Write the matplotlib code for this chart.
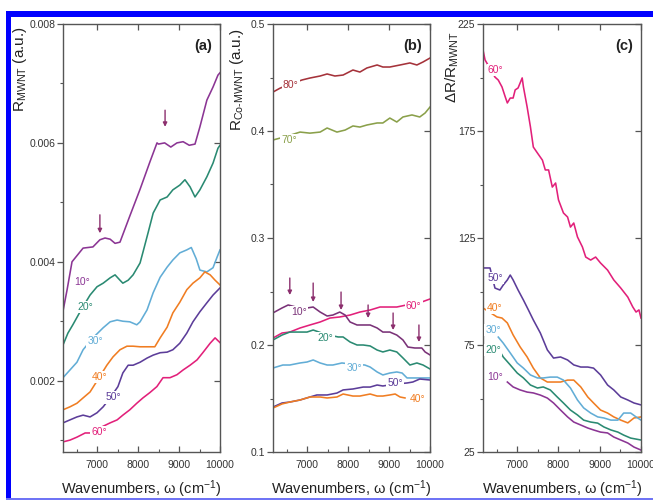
import numpy as np
import matplotlib
matplotlib.use("Agg")
import matplotlib.pyplot as plt
from matplotlib.ticker import MultipleLocator
from matplotlib.patches import Rectangle

plt.rcParams['font.family'] = ['Liberation Sans', 'DejaVu Sans']
plt.rcParams['mathtext.fontset'] = 'custom'
plt.rcParams['mathtext.rm'] = 'Liberation Sans'
plt.rcParams['mathtext.it'] = 'Liberation Sans:italic'

# ---------------- Panel (a): R_MWNT ----------------
a10_wn = [6170, 6270, 6390, 6660, 6900, 7070, 7195, 7320, 7440, 7560, 7800, 8050, 8290, 8463, 8500,
          8650, 8800, 8950, 9100, 9250, 9390, 9510, 9680, 9830, 9950, 10000]
a10_r = [0.00317, 0.00353, 0.00400, 0.00423, 0.00425, 0.00437, 0.00440, 0.00438, 0.00431, 0.00433,
         0.00477, 0.00522, 0.00568, 0.00600, 0.00598, 0.00600, 0.00593, 0.00600, 0.00602, 0.00596,
         0.00598, 0.00627, 0.00672, 0.00694, 0.00714, 0.00718]
a20_wn = [6170, 6290, 6410, 6620, 6830, 7000, 7150, 7320, 7440, 7560, 7630, 7760, 7880, 8050, 8120,
          8250, 8370, 8540, 8710, 8850, 9020, 9145, 9270, 9390, 9510, 9680, 9830, 9950, 10000]
a20_r = [0.00260, 0.00280, 0.00294, 0.00320, 0.00344, 0.00358, 0.00364, 0.00373, 0.00378, 0.00369,
         0.00364, 0.00369, 0.00378, 0.00398, 0.00416, 0.00450, 0.00482, 0.00504, 0.00509, 0.00521,
         0.00529, 0.00538, 0.00526, 0.00509, 0.00521, 0.00543, 0.00566, 0.00591, 0.00596]
a30_wn = [6170, 6340, 6510, 6660, 6900, 7150, 7320, 7490, 7630, 7800, 7970, 8050, 8220, 8370, 8540,
          8710, 8850, 9020, 9190, 9300, 9420, 9510, 9680, 9830, 9930, 10000]
a30_r = [0.00205, 0.00218, 0.00231, 0.00252, 0.00272, 0.00289, 0.00299, 0.00302, 0.00300, 0.00299,
         0.00294, 0.00299, 0.00319, 0.00348, 0.00374, 0.00391, 0.00403, 0.00415, 0.00420, 0.00424,
         0.00405, 0.00386, 0.00383, 0.00390, 0.00408, 0.00420]
a40_wn = [6170, 6340, 6510, 6660, 6830, 7050, 7240, 7390, 7560, 7730, 7880, 8050, 8220, 8410, 8540,
          8710, 8850, 9020, 9190, 9340, 9510, 9630, 9760, 9880, 10000]
a40_r = [0.00151, 0.00156, 0.00162, 0.00171, 0.00181, 0.00205, 0.00226, 0.00240, 0.00252, 0.00258,
         0.00258, 0.00257, 0.00257, 0.00257, 0.00272, 0.00290, 0.00314, 0.00332, 0.00353, 0.00364,
         0.00373, 0.00383, 0.00378, 0.00369, 0.00361]
a50_wn = [6170, 6340, 6510, 6660, 6830, 7000, 7150, 7330, 7510, 7630, 7760, 7880, 8050, 8220, 8370,
          8540, 8710, 8850, 9020, 9190, 9340, 9510, 9680, 9830, 10000]
a50_r = [0.00129, 0.00134, 0.00139, 0.00142, 0.00139, 0.00146, 0.00156, 0.00172, 0.00190, 0.00213,
         0.00226, 0.00226, 0.00231, 0.00238, 0.00243, 0.00247, 0.00248, 0.00252, 0.00263, 0.00280,
         0.00299, 0.00316, 0.00331, 0.00344, 0.00356]
a60_wn = [6170, 6340, 6510, 6710, 6830, 7050, 7320, 7490, 7630, 7800, 7970, 8120, 8290, 8460, 8610,
          8780, 8950, 9100, 9270, 9440, 9580, 9760, 9880, 10000]
a60_r = [0.00097, 0.00100, 0.00105, 0.00112, 0.00112, 0.00120, 0.00129, 0.00134, 0.00142, 0.00151,
         0.00162, 0.00171, 0.00180, 0.00190, 0.00205, 0.00205, 0.00210, 0.00218, 0.00226, 0.00235,
         0.00247, 0.00263, 0.00272, 0.00264]
a_arrow_wn = [7070, 8660]
a_arrow_top = [0.00479, 0.00655]
a_arrow_tip = [0.00448, 0.00627]

# ---------------- Panel (b): R_Co-MWNT ----------------
b80_wn = [6170, 6340, 6600, 6880, 7070, 7320, 7490, 7680, 7880, 8120, 8290, 8460, 8710, 8850, 9020,
          9270, 9510, 9680, 9830, 10000]
b80_r = [0.4364, 0.4400, 0.4440, 0.4477, 0.4495, 0.4514, 0.4533, 0.4514, 0.4523, 0.4570, 0.4551,
         0.4589, 0.4617, 0.4598, 0.4598, 0.4617, 0.4636, 0.4617, 0.4645, 0.4682]
b70_wn = [6170, 6500, 6830, 7070, 7320, 7490, 7730, 7930, 8120, 8290, 8460, 8710, 8850, 9020, 9190,
          9340, 9560, 9750, 9880, 10000]
b70_r = [0.3916, 0.3950, 0.3990, 0.3980, 0.3990, 0.4028, 0.3990, 0.4009, 0.4047, 0.4037, 0.4056,
         0.4075, 0.4075, 0.4121, 0.4084, 0.4131, 0.4150, 0.4131, 0.4168, 0.4224]
b10_wn = [6170, 6390, 6540, 6780, 7000, 7150, 7320, 7490, 7630, 7800, 7930, 8050, 8220, 8370, 8540,
          8710, 8850, 9020, 9190, 9340, 9460, 9630, 9800, 9880, 10000]
b10_r = [0.2300, 0.2346, 0.2374, 0.2350, 0.2346, 0.2355, 0.2308, 0.2271, 0.2280, 0.2308, 0.2280,
         0.2215, 0.2187, 0.2187, 0.2187, 0.2159, 0.2121, 0.2121, 0.2093, 0.2047, 0.1981, 0.1972,
         0.1972, 0.1935, 0.1907]
b60_wn = [6170, 6390, 6580, 6830, 7070, 7320, 7560, 7800, 8050, 8290, 8540, 8780, 9020, 9190, 9500,
          9800, 10000]
b60_r = [0.2065, 0.2112, 0.2121, 0.2159, 0.2187, 0.2215, 0.2252, 0.2262, 0.2280, 0.2308, 0.2327,
         0.2355, 0.2355, 0.2355, 0.2380, 0.2402, 0.2430]
b20_wn = [6170, 6390, 6580, 6830, 7000, 7150, 7450, 7760, 7880, 8050, 8220, 8370, 8540, 8710, 8850,
          9020, 9190, 9340, 9510, 9680, 9830, 10000]
b20_r = [0.2047, 0.2093, 0.2121, 0.2121, 0.2121, 0.2140, 0.2100, 0.2075, 0.2075, 0.2028, 0.2000,
         0.2000, 0.1991, 0.1953, 0.1935, 0.1953, 0.1935, 0.1879, 0.1813, 0.1832, 0.1813, 0.1776]
b30_wn = [6170, 6410, 6580, 6830, 7000, 7150, 7320, 7490, 7630, 7850, 8130, 8410, 8540, 8710, 8850,
          9020, 9190, 9320, 9440, 9680, 10000]
b30_r = [0.1785, 0.1813, 0.1813, 0.1832, 0.1841, 0.1860, 0.1832, 0.1813, 0.1813, 0.1832, 0.1820,
         0.1813, 0.1794, 0.1748, 0.1720, 0.1738, 0.1748, 0.1738, 0.1692, 0.1692, 0.1692]
b50_wn = [6170, 6390, 6580, 6830, 7070, 7240, 7490, 7730, 7880, 8120, 8370, 8540, 8710, 8850, 9150,
          9440, 9580, 9750, 10000]
b50_r = [0.1420, 0.1458, 0.1467, 0.1486, 0.1514, 0.1533, 0.1533, 0.1551, 0.1580, 0.1589, 0.1607,
         0.1607, 0.1626, 0.1617, 0.1635, 0.1645, 0.1654, 0.1682, 0.1673]
b40_wn = [6170, 6390, 6580, 6830, 7070, 7320, 7490, 7730, 7880, 8120, 8290, 8540, 8710, 8850, 9020,
          9150, 9270, 9390]
b40_r = [0.1411, 0.1449, 0.1467, 0.1486, 0.1514, 0.1514, 0.1505, 0.1514, 0.1542, 0.1523, 0.1523,
         0.1542, 0.1523, 0.1523, 0.1533, 0.1542, 0.1514, 0.1505]
b_arrow_wn = [6580, 7150, 7830, 8490, 9100, 9730]
b_arrow_top = [0.2626, 0.2579, 0.2495, 0.2374, 0.2299, 0.2187]
b_arrow_tip = [0.2467, 0.2402, 0.2327, 0.2252, 0.2140, 0.2028]

# ---------------- Panel (c): dR/R_MWNT ----------------
c60_wn = [6170, 6220, 6460, 6540, 6630, 6710, 6760, 6830, 6900, 6950, 7020, 7120, 7150, 7240, 7320,
          7390, 7490, 7610, 7680, 7760, 7850, 7930, 8000, 8120, 8220, 8290, 8370, 8460, 8580, 8660,
          8780, 8900, 9020, 9190, 9340, 9510, 9680, 9800, 9880, 9950, 10000]
c60_v = [212.9, 208.2, 200.2, 198.8, 195.6, 190.9, 188.1, 190.4, 190.4, 194.2, 195.1, 199.8, 195.6,
         186.2, 176.9, 167.5, 164.7, 161.4, 156.8, 156.8, 148.8, 150.7, 142.8, 136.7, 134.8, 130.1,
         132.0, 125.5, 120.8, 116.1, 114.7, 116.1, 113.3, 110.0, 105.4, 101.6, 97.4, 92.8, 90.4,
         91.4, 87.6]
c50_wn = [6170, 6340, 6460, 6580, 6660, 6760, 6830, 6900, 7020, 7150, 7270, 7390, 7560, 7730, 7880,
          8050, 8220, 8370, 8540, 8710, 8850, 9020, 9190, 9340, 9510, 9680, 9830, 10000]
c50_v = [111.0, 111.0, 101.6, 100.7, 103.0, 105.4, 107.7, 105.4, 100.7, 96.0, 91.4, 86.7, 80.6,
         72.7, 68.9, 69.4, 68.0, 65.7, 64.7, 64.7, 64.2, 61.0, 56.3, 54.0, 50.7, 49.3, 47.9, 47.0]
c40_wn = [6170, 6510, 6630, 6760, 6900, 7070, 7240, 7390, 7560, 7730, 7880, 8050, 8220, 8370, 8540,
          8710, 8850, 9020, 9190, 9340, 9510, 9680, 9830, 10000]
c40_v = [92.3, 88.1, 87.6, 85.3, 79.7, 74.1, 69.4, 64.2, 59.6, 57.7, 57.7, 57.7, 58.6, 58.6, 55.4,
         50.7, 47.9, 44.6, 43.2, 41.4, 39.9, 38.6, 40.9, 41.4]
c30_wn = [6540, 6660, 6830, 7000, 7150, 7320, 7490, 7630, 7800, 7970, 8120, 8290, 8460, 8610, 8780,
          8950, 9100, 9270, 9440, 9580, 9750, 9880, 10000]
c30_v = [78.7, 75.9, 71.3, 66.6, 64.2, 61.0, 59.6, 59.6, 60.0, 60.0, 58.6, 54.9, 49.3, 45.6, 43.2,
         41.4, 40.9, 39.9, 39.9, 43.2, 43.2, 41.4, 39.9]
c20_wn = [6560, 6660, 6830, 7000, 7150, 7320, 7490, 7630, 7800, 7970, 8120, 8290, 8460, 8610, 8780,
          8950, 9100, 9270, 9440, 9580, 9750, 10000]
c20_v = [72.7, 69.4, 65.7, 61.9, 59.6, 56.3, 54.9, 55.4, 54.0, 50.7, 47.9, 44.6, 42.3, 39.9, 39.0,
         38.5, 36.7, 35.3, 34.3, 32.9, 31.5, 30.6]
c10_wn = [6760, 6900, 7070, 7240, 7390, 7560, 7730, 7880, 8050, 8220, 8370, 8540, 8710, 8850, 9020,
          9190, 9340, 9510, 9680, 9830, 10000]
c10_v = [57.7, 55.4, 54.0, 53.0, 52.6, 51.6, 50.2, 47.9, 44.6, 41.4, 39.0, 37.6, 36.2, 35.3, 34.3,
         33.9, 32.0, 30.6, 29.2, 27.3, 25.9]

angle_labels = ['10°', '20°', '30°', '40°', '50°', '60°', '70°', '80°']

# ---------------- styles ----------------
C10, C20, C30, C40 = '#8B3594', '#2A8A72', '#62ADD6', '#F07D22'
C50, C60, C70, C80 = '#5C3D99', '#E2207A', '#8AA04A', '#A5323A'
C10b = '#7A3278'
ARROW = '#8C2F6E'
SPINE = '#555555'
TXT = '#333333'

W, H = 653, 500
fig = plt.figure(figsize=(W / 100, H / 100), dpi=100)
fig.patch.set_facecolor('white')


def px_ax(l, r, t, b):
    return fig.add_axes([l / W, 1 - b / H, (r - l) / W, (b - t) / H])


axa = px_ax(63, 220, 24, 452)
axb = px_ax(273, 430, 24, 452)
axc = px_ax(483, 641, 24, 452)


def style(ax, ylim, ymaj, ymin, yoff, ylabel, ylab_x, ylab_y, tag):
    ax.set_xlim(6170, 10000)
    ax.set_ylim(*ylim)
    ax.xaxis.set_major_locator(MultipleLocator(1000))
    ax.xaxis.set_minor_locator(MultipleLocator(500))
    ax.yaxis.set_major_locator(MultipleLocator(ymaj, offset=yoff))
    ax.yaxis.set_minor_locator(MultipleLocator(ymin))
    for s in ax.spines.values():
        s.set_color(SPINE)
        s.set_linewidth(1.0)
    ax.tick_params(axis='y', which='both', direction='out', left=True, right=False,
                   color=SPINE, labelsize=7.5, labelcolor=TXT, pad=1.5)
    ax.tick_params(axis='x', which='both', direction='in', bottom=True, top=False,
                   color=SPINE, labelsize=7.5, labelcolor=TXT, pad=6)
    ax.tick_params(which='major', length=4, width=0.9)
    ax.tick_params(which='minor', length=2.5, width=0.8)
    # mirrored major ticks on top / right (inward)
    sec_x = ax.secondary_xaxis('top')
    sec_x.xaxis.set_major_locator(MultipleLocator(1000))
    sec_x.tick_params(direction='in', length=4, width=0.9, color=SPINE, labeltop=False)
    sec_x.spines['top'].set_visible(False)
    sec_y = ax.secondary_yaxis('right')
    sec_y.yaxis.set_major_locator(MultipleLocator(ymaj, offset=yoff))
    sec_y.tick_params(direction='in', length=4, width=0.9, color=SPINE, labelright=False)
    sec_y.spines['right'].set_visible(False)
    ax.set_xlabel('Wavenumbers, ω (cm$^{-1}$)', fontsize=10.5, color='#222222')
    ax.xaxis.set_label_coords(0.5, -0.062)
    ax.set_ylabel(ylabel, fontsize=11, color='#222222')
    ax.yaxis.set_label_coords(ylab_x, ylab_y)
    ax.text(0.95, 0.965, tag, transform=ax.transAxes, ha='right', va='top',
            fontsize=10.5, fontweight='bold', color='#222222')


def lab(ax, x, y, s, c):
    ax.text(x, y, s, color=c, fontsize=7.5, ha='center', va='center', zorder=5,
            bbox=dict(boxstyle='square,pad=0.12', fc='white', ec='none'))


LW = 1.15

# Panel (a)
for wn, r, c in [(a10_wn, a10_r, C10), (a20_wn, a20_r, C20), (a30_wn, a30_r, C30),
                 (a40_wn, a40_r, C40), (a50_wn, a50_r, C50), (a60_wn, a60_r, C60)]:
    axa.plot(wn, r, color=c, lw=LW)
style(axa, (0.0008, 0.008), 0.002, 0.001, 0.0, r'R$_{\mathrm{MWNT}}$ (a.u.)', -0.215, 0.895, '(a)')
axa.yaxis.set_major_formatter(plt.FuncFormatter(lambda v, p: f'{v:.3f}'))
lab(axa, 6640, 0.00366, angle_labels[0], C10)
lab(axa, 6720, 0.00324, angle_labels[1], C20)
lab(axa, 6960, 0.00266, angle_labels[2], C30)
lab(axa, 7070, 0.00206, angle_labels[3], C40)
lab(axa, 7390, 0.00172, angle_labels[4], C50)
lab(axa, 7050, 0.00113, angle_labels[5], C60)
for x, yt, yb in zip(a_arrow_wn, a_arrow_top, a_arrow_tip):
    axa.annotate('', xy=(x, yb), xytext=(x, yt),
                 arrowprops=dict(arrowstyle='-|>', color=ARROW, lw=1.0, mutation_scale=6,
                                 shrinkA=0, shrinkB=0))

# Panel (b)
for wn, r, c in [(b80_wn, b80_r, C80), (b70_wn, b70_r, C70), (b60_wn, b60_r, C60),
                 (b10_wn, b10_r, C10b), (b20_wn, b20_r, C20), (b30_wn, b30_r, C30),
                 (b50_wn, b50_r, C50), (b40_wn, b40_r, C40)]:
    axb.plot(wn, r, color=c, lw=LW)
style(axb, (0.1, 0.5), 0.1, 0.05, 0.0, r'R$_{\mathrm{Co\text{-}MWNT}}$ (a.u.)', -0.17, 0.87, '(b)')
axb.yaxis.set_major_formatter(plt.FuncFormatter(lambda v, p: f'{v:.1f}'))
lab(axb, 6600, 0.443, angle_labels[7], C80)
lab(axb, 6560, 0.3916, angle_labels[6], C70)
lab(axb, 6800, 0.2308, angle_labels[0], C10b)
lab(axb, 9600, 0.2365, angle_labels[5], C60)
lab(axb, 7450, 0.2065, angle_labels[1], C20)
lab(axb, 8150, 0.1785, angle_labels[2], C30)
lab(axb, 9150, 0.1645, angle_labels[4], C50)
lab(axb, 9690, 0.1500, angle_labels[3], C40)
for x, yt, yb in zip(b_arrow_wn, b_arrow_top, b_arrow_tip):
    axb.annotate('', xy=(x, yb), xytext=(x, yt),
                 arrowprops=dict(arrowstyle='-|>', color=ARROW, lw=1.0, mutation_scale=6,
                                 shrinkA=0, shrinkB=0))

# Panel (c)
for wn, v, c in [(c60_wn, c60_v, C60), (c50_wn, c50_v, C50), (c40_wn, c40_v, C40),
                 (c30_wn, c30_v, C30), (c20_wn, c20_v, C20), (c10_wn, c10_v, C10)]:
    axc.plot(wn, v, color=c, lw=LW)
style(axc, (25, 225), 50, 25, 25, r'ΔR/R$_{\mathrm{MWNT}}$', -0.14, 0.90, '(c)')
lab(axc, 6480, 203.5, angle_labels[5], C60)
lab(axc, 6460, 106.3, angle_labels[4], C50)
lab(axc, 6460, 92.3, angle_labels[3], C40)
lab(axc, 6420, 82.0, angle_labels[2], C30)
lab(axc, 6420, 72.7, angle_labels[1], C20)
lab(axc, 6460, 60.0, angle_labels[0], C10)

# blue frame (as in the reference image)
fig.patches.append(Rectangle((6 / W, 1 - 498 / H), 5 / W, (498 - 11) / H,
                             transform=fig.transFigure, fc='#0000FF', ec='none'))
fig.patches.append(Rectangle((6 / W, 1 - 17 / H), 1 - 6 / W, 6 / H,
                             transform=fig.transFigure, fc='#0000FF', ec='none'))
fig.patches.append(Rectangle((6 / W, 1 - 500 / H), 1 - 6 / W, 2.5 / H,
                             transform=fig.transFigure, fc='#6F74F5', ec='none'))

fig.savefig('out.png', dpi=100)
